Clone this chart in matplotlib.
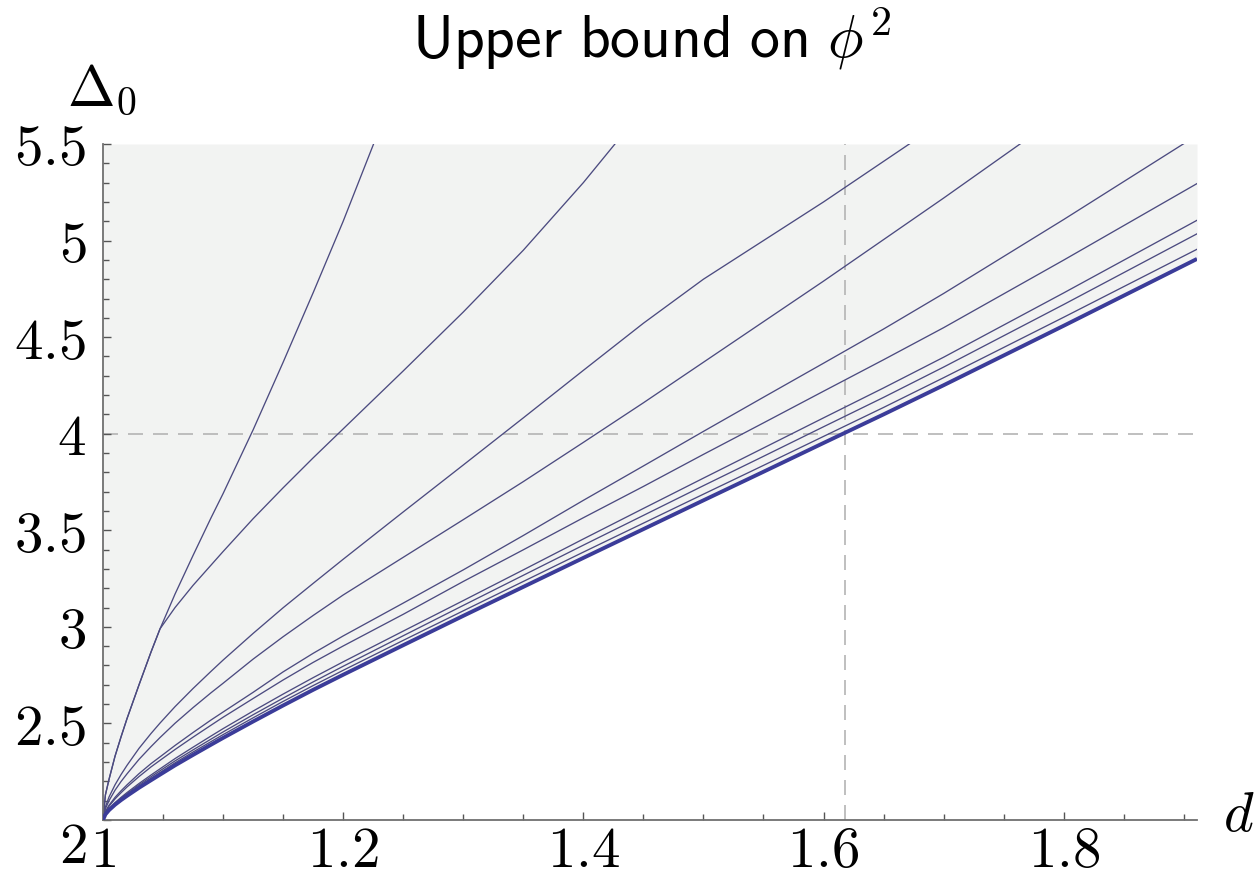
import numpy as np
import matplotlib
matplotlib.use("Agg")
import matplotlib.pyplot as plt
from matplotlib.ticker import MultipleLocator, FixedLocator

plt.rcParams["mathtext.fontset"] = "cm"

# scaling dimension d of phi
d_vals = [1.0, 1.002, 1.005, 1.01, 1.015, 1.02, 1.03, 1.04, 1.0475, 1.06,
          1.075, 1.09, 1.1, 1.125, 1.15, 1.175, 1.2, 1.25, 1.3, 1.35,
          1.4, 1.45, 1.5, 1.55, 1.6, 1.65, 1.7, 1.8, 1.911]

nan = np.nan
# upper bounds on Delta_0 at increasing derivative order (weakest first)
bound_1 = [2.0, 2.13, 2.21, 2.33, 2.43, 2.525, 2.70, 2.87, 2.99, 3.17,
           3.37, 3.565, 3.69, 4.02, 4.37, 4.73, 5.10, 5.89, nan, nan,
           nan, nan, nan, nan, nan, nan, nan, nan, nan]
bound_2 = [2.0, 2.13, 2.21, 2.33, 2.43, 2.525, 2.70, 2.87, 2.99, 3.10,
           3.215, 3.32, 3.39, 3.56, 3.72, 3.875, 4.025, 4.325, 4.63, 4.95,
           5.30, 5.68, nan, nan, nan, nan, nan, nan, nan]
bound_3 = [2.0, 2.068, 2.119, 2.182, 2.235, 2.283, 2.371, 2.448, 2.502, 2.587,
           2.681, 2.770, 2.828, 2.966, 3.099, 3.225, 3.35, 3.595, 3.838, 4.082,
           4.328, 4.572, 4.80, 5.00, 5.20, 5.41, 5.62, nan, nan]
bound_4 = [2.0, 2.058, 2.100, 2.154, 2.199, 2.239, 2.314, 2.380, 2.427, 2.501,
           2.582, 2.659, 2.708, 2.833, 2.949, 3.059, 3.165, 3.36, 3.555, 3.752,
           3.955, 4.16, 4.37, 4.58, 4.79, 5.005, 5.22, 5.66, nan]
bound_5 = [2.0, 2.044, 2.076, 2.117, 2.151, 2.182, 2.240, 2.292, 2.327, 2.386,
           2.453, 2.518, 2.559, 2.661, 2.767, 2.863, 2.953, 3.123, 3.295, 3.473,
           3.655, 3.833, 4.012, 4.189, 4.365, 4.542, 4.726, 5.109, 5.545]
bound_6 = [2.0, 2.040, 2.071, 2.109, 2.141, 2.171, 2.225, 2.275, 2.309, 2.365,
           2.429, 2.491, 2.532, 2.629, 2.725, 2.816, 2.901, 3.065, 3.235, 3.399,
           3.565, 3.727, 3.893, 4.056, 4.220, 4.383, 4.549, 4.899, 5.295]
bound_7 = [2.0, 2.033, 2.058, 2.090, 2.117, 2.142, 2.189, 2.233, 2.265, 2.318,
           2.377, 2.435, 2.473, 2.564, 2.652, 2.737, 2.819, 2.978, 3.136, 3.295,
           3.455, 3.613, 3.770, 3.926, 4.082, 4.237, 4.396, 4.729, 5.105]
bound_8 = [2.0, 2.031, 2.055, 2.086, 2.112, 2.136, 2.182, 2.224, 2.255, 2.306,
           2.363, 2.419, 2.456, 2.545, 2.631, 2.715, 2.796, 2.954, 3.111, 3.267,
           3.423, 3.577, 3.731, 3.883, 4.036, 4.188, 4.345, 4.669, 5.035]
bound_9 = [2.0, 2.030, 2.053, 2.083, 2.108, 2.131, 2.175, 2.216, 2.246, 2.296,
           2.352, 2.406, 2.442, 2.529, 2.614, 2.696, 2.775, 2.930, 3.083, 3.235,
           3.387, 3.537, 3.687, 3.836, 3.986, 4.136, 4.290, 4.603, 4.955]
best_bound = [2.0, 2.029, 2.051, 2.079, 2.103, 2.125, 2.167, 2.206, 2.235, 2.283,
              2.337, 2.390, 2.425, 2.510, 2.593, 2.674, 2.752, 2.905, 3.057, 3.207,
              3.357, 3.506, 3.655, 3.803, 3.952, 4.100, 4.251, 4.559, 4.905]

thin_bounds = [bound_1, bound_2, bound_3, bound_4, bound_5,
               bound_6, bound_7, bound_8, bound_9]

golden = (1 + 5 ** 0.5) / 2
delta_ref = 4.0

x_ticks = [1, 1.2, 1.4, 1.6, 1.8]
x_labels = ["1", "1.2", "1.4", "1.6", "1.8"]
y_ticks = [2, 2.5, 3, 3.5, 4, 4.5, 5, 5.5]
y_labels = ["2", "2.5", "3", "3.5", "4", "4.5", "5", "5.5"]

fig = plt.figure(figsize=(12.54, 8.81), dpi=100)
ax = fig.add_axes([103 / 1254, 61 / 881, 1094 / 1254, 676 / 881])

xmin, xmax = 1.0, 1.911
ymin, ymax = 2.0, 5.5

# excluded region above the strongest bound
ax.fill_between(d_vals, best_bound, ymax, color="#f2f3f2", lw=0, zorder=0)

dash_col = "#b4b4b4"
ax.axhline(delta_ref, color=dash_col, lw=1.2, dashes=(9, 6), zorder=1)
ax.axvline(golden, color=dash_col, lw=1.2, dashes=(9, 6), zorder=1)

for b in thin_bounds:
    ax.plot(d_vals, b, color="#4c4b80", lw=0.95, solid_joinstyle="round", zorder=2)
ax.plot(d_vals, best_bound, color="#3b3c99", lw=2.8, solid_capstyle="butt", zorder=3)

ax.set_xlim(xmin, xmax)
ax.set_ylim(ymin, ymax)

for side in ("top", "right"):
    ax.spines[side].set_visible(False)
for side in ("left", "bottom"):
    ax.spines[side].set_color("#707070")
    ax.spines[side].set_linewidth(1.3)

ax.xaxis.set_major_locator(FixedLocator(x_ticks))
ax.xaxis.set_minor_locator(MultipleLocator(0.05))
ax.yaxis.set_major_locator(FixedLocator(y_ticks))
ax.yaxis.set_minor_locator(MultipleLocator(0.1))
ax.set_xticklabels([f"${s}$" for s in x_labels])
ax.set_yticklabels([f"${s}$" for s in y_labels])

ax.tick_params(which="both", direction="in", color="#555555", width=1.0,
               labelsize=41, pad=12)
ax.tick_params(which="major", length=6)
ax.tick_params(which="minor", length=4)
ax.tick_params(axis="x", pad=3)

# origin label sits below its tick
ax.get_yticklabels()[0].set_verticalalignment("top")

fig.text(67 / 1254, 1 - 105 / 881, r"$\Delta_0$", fontsize=41,
         ha="left", va="baseline")
fig.text(1239 / 1254, 1 - 815 / 881, r"$d$", fontsize=41,
         ha="center", va="center")
fig.text(652 / 1254, 1 - 57 / 881, r"$\mathsf{Upper\ bound\ on\ }\phi^2$",
         fontsize=43, ha="center", va="baseline")

fig.savefig("out.png", dpi=100)
